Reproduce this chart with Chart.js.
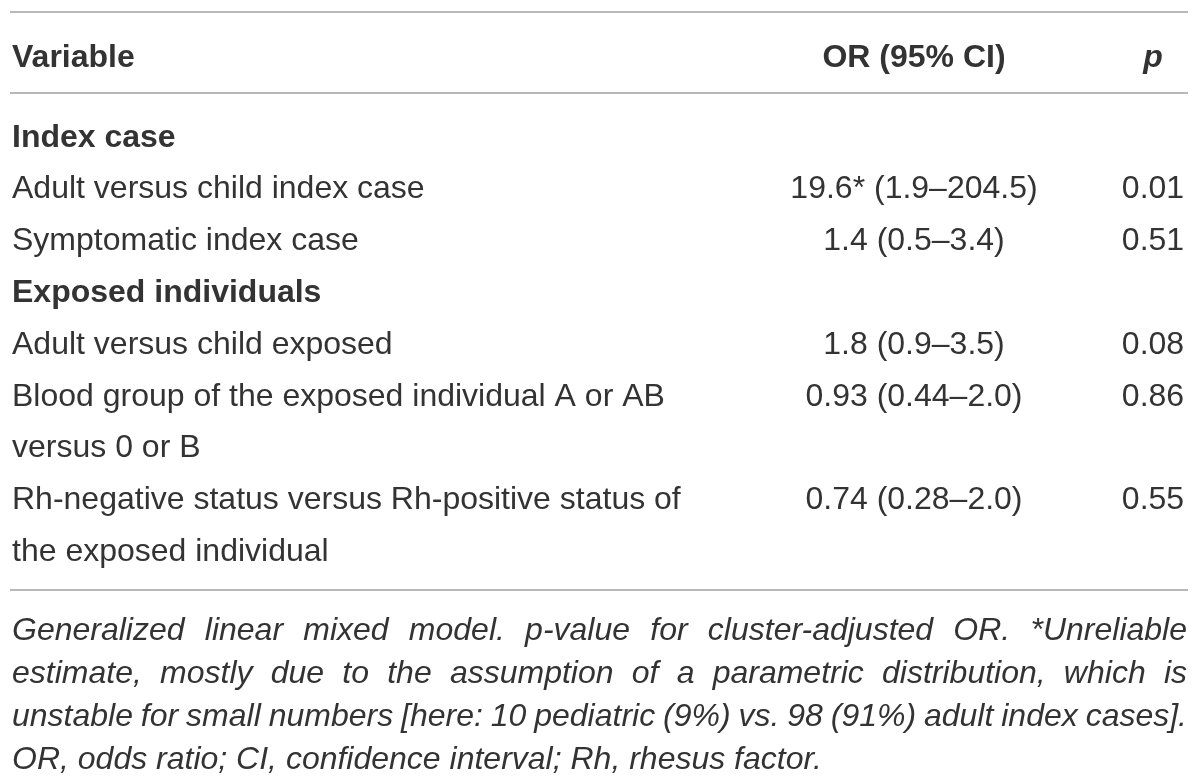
<!DOCTYPE html>
<html>
<head>
<meta charset="utf-8">
<script src="https://cdn.jsdelivr.net/npm/chart.js@4.4.0/dist/chart.umd.min.js"></script>
<style>
  html, body { margin: 0; padding: 0; background: #fff; }
  #wrap { width: 1200px; height: 777px; position: relative; }
</style>
</head>
<body>
<div id="wrap"><canvas id="tbl"></canvas></div>
<script>
// table content, one entry per printed line of the first column
var variableLines = [
    "Index case",
    "Adult versus child index case",
    "Symptomatic index case",
    "Exposed individuals",
    "Adult versus child exposed",
    "Blood group of the exposed individual A or AB",
    "versus 0 or B",
    "Rh-negative status versus Rh-positive status of",
    "the exposed individual"
];
var sectionRows = [0, 3];
var columnHeads = ["OR (95% CI)", "p"];
var orValues = [null, "19.6* (1.9\u2013204.5)", "1.4 (0.5\u20133.4)", null, "1.8 (0.9\u20133.5)", "0.93 (0.44\u20132.0)", null, "0.74 (0.28\u20132.0)", null];
var pValues = [null, "0.01", "0.51", null, "0.08", "0.86", null, "0.55", null];
var footnoteLines = [
    "Generalized linear mixed model. p-value for cluster-adjusted OR. *Unreliable",
    "estimate, mostly due to the assumption of a parametric distribution, which is",
    "unstable for small numbers [here: 10 pediatric (9%) vs. 98 (91%) adult index cases].",
    "OR, odds ratio; CI, confidence interval; Rh, rhesus factor."
];

var FONT = "'Liberation Sans', Arial, sans-serif";
var INK = "#333333";

function justified(ctx, text, x0, x1, y, stretch) {
    if (!stretch) { ctx.fillText(text, x0, y); return; }
    var words = text.split(" ");
    var widths = words.map(function (w) { return ctx.measureText(w).width; });
    var sum = widths.reduce(function (a, b) { return a + b; }, 0);
    var room = x1 - x0;
    var minGap = 5;
    var f = Math.min(1, (room - minGap * (words.length - 1)) / sum);
    var gap = (room - sum * f) / (words.length - 1);
    var x = x0;
    for (var i = 0; i < words.length; i++) {
        ctx.save();
        ctx.translate(x, y);
        ctx.scale(f, 1);
        ctx.fillText(words[i], 0, 0);
        ctx.restore();
        x += widths[i] * f + gap;
    }
}

var tablePlugin = {
    id: 'tablePlugin',
    afterDraw: function (chart) {
        var ctx = chart.ctx;
        var xs = chart.scales.x, ys = chart.scales.y;
        var area = chart.chartArea;
        ctx.save();

        // rules
        ctx.strokeStyle = "#b8b8b8";
        ctx.lineWidth = 2;
        [12, area.top - 19, area.bottom + 12].forEach(function (yy) {
            ctx.beginPath();
            ctx.moveTo(10, yy);
            ctx.lineTo(1188, yy);
            ctx.stroke();
        });

        // header row
        ctx.fillStyle = INK;
        ctx.textBaseline = "middle";
        ctx.font = "bold 32px " + FONT;
        ctx.textAlign = "left";
        ctx.fillText("Variable", 12, 58);
        ctx.textAlign = "center";
        ctx.fillText(columnHeads[0], xs.getPixelForValue(0), 58);
        ctx.font = "italic bold 32px " + FONT;
        ctx.fillText(columnHeads[1], xs.getPixelForValue(1), 58);

        // cells
        ctx.font = "32px " + FONT;
        for (var i = 0; i < variableLines.length; i++) {
            var yy = ys.getPixelForValue(i);
            if (orValues[i]) ctx.fillText(orValues[i], xs.getPixelForValue(0), yy);
            if (pValues[i]) ctx.fillText(pValues[i], xs.getPixelForValue(1), yy);
        }

        // footnote
        ctx.font = "italic 32px " + FONT;
        ctx.textAlign = "left";
        var fy = area.bottom + 53;
        footnoteLines.forEach(function (line, k) {
            justified(ctx, line, 12, 1187, fy + k * 43, k < footnoteLines.length - 1);
        });
        ctx.restore();
    }
};

new Chart(document.getElementById("tbl"), {
    type: 'bar',
    data: { labels: variableLines, datasets: [] },
    options: {
        responsive: true,
        maintainAspectRatio: false,
        animation: false,
        events: [],
        layout: { padding: { left: 12, right: 47, top: 112, bottom: 199 } },
        plugins: { legend: { display: false }, tooltip: { enabled: false } },
        scales: {
            x: {
                type: 'category',
                labels: columnHeads,
                min: 0, max: 1,
                offset: false,
                display: false
            },
            y: {
                type: 'category',
                labels: variableLines,
                min: 0, max: variableLines.length - 1,
                offset: true,
                grid: { display: false },
                border: { display: false },
                afterFit: function (s) { s.width = 902; },
                ticks: {
                    autoSkip: false,
                    crossAlign: 'far',
                    padding: 0,
                    color: INK,
                    font: function (c) {
                        return { family: FONT, size: 32, weight: sectionRows.indexOf(c.index) >= 0 ? 'bold' : 'normal' };
                    }
                }
            }
        }
    },
    plugins: [tablePlugin]
});
</script>
</body>
</html>
